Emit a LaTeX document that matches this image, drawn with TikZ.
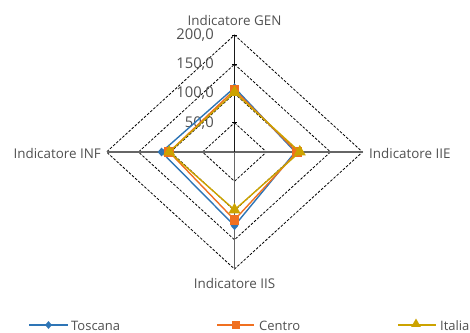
\documentclass[tikz,border=0pt]{standalone}
\usepackage{fontspec}
\setmainfont{Open Sans}
\usetikzlibrary{shapes.geometric}
\definecolor{tosc}{HTML}{2E75B6}
\definecolor{cent}{HTML}{F07020}
\definecolor{ital}{HTML}{CCA300}
\definecolor{txt}{HTML}{505050}
\newcommand\serie[6]{%
  \coordinate (#1a) at ({\cx},{\cy+#2*\ry});
  \coordinate (#1b) at ({\cx+#3*\rx},{\cy});
  \coordinate (#1c) at ({\cx},{\cy-#4*\ry});
  \coordinate (#1d) at ({\cx-#5*\rx},{\cy});
  \draw[ser#6] (#1a) -- (#1b) -- (#1c) -- (#1d) -- cycle;
  \foreach \p in {a,b,c,d}{\node[mk#6] at (#1\p) {};}
}
\begin{document}
\begin{tikzpicture}[x=1pt,y=1pt,
  lbl/.style={text=txt,font=\fontsize{13.4}{15}\selectfont,inner sep=0pt},
  ring/.style={dash pattern=on 2.6pt off 1.6pt,line width=0.8pt,black},
  gaxis/.style={draw=black!60,line width=1.1pt},
  vaxis/.style={draw=black!90,line width=1.8pt},
  serT/.style={draw=tosc,line width=1.4pt,line join=round},
  serC/.style={draw=cent,line width=1.4pt,line join=round},
  serI/.style={draw=ital,line width=1.4pt,line join=round},
  mkT/.style={diamond,fill=tosc,inner sep=0pt,minimum width=8pt,minimum height=9pt},
  mkC/.style={rectangle,fill=cent,inner sep=0pt,minimum size=9.5pt},
  mkI/.style={regular polygon,regular polygon sides=3,fill=ital,inner sep=0pt,minimum size=14pt},
  lmkT/.style={mkT,minimum width=7pt,minimum height=8pt},
  lmkC/.style={mkC,minimum size=8pt},
  lmkI/.style={mkI,minimum size=11pt}]
\useasboundingbox (0,0) rectangle (470,332);
\def\cx{234.5}\def\cy{180}\def\rx{0.64}\def\ry{0.585}
% rings
\foreach \v in {50,100,150,200}{
  \draw[ring] ({\cx},{\cy+\v*\ry}) -- ({\cx+\v*\rx},{\cy}) -- ({\cx},{\cy-\v*\ry}) -- ({\cx-\v*\rx},{\cy}) -- cycle;
}
% axes
\coordinate (C) at (\cx,\cy);
\coordinate (top) at ({\cx},{\cy+200*\ry});
\coordinate (bot) at ({\cx},{\cy-200*\ry});
\coordinate (lft) at ({\cx-200*\rx},{\cy});
\coordinate (rgt) at ({\cx+200*\rx},{\cy});
\draw[gaxis] (lft) -- (rgt);
\draw[gaxis] (C) -- (bot);
\draw[vaxis] (C) -- (top);
\foreach \v in {50,100,150,200}{
  \draw[black,line width=0.8pt] ({\cx-2.5},{\cy+\v*\ry}) -- ({\cx+2.5},{\cy+\v*\ry});
  \node[lbl,anchor=east,font=\fontsize{14.8}{16}\selectfont] (t\v) at ({\cx-20.5},{\cy+\v*\ry}) {\v,0};
}
% axis labels
\node[lbl] (lGEN) at (\cx,312) {Indicatore GEN};
\node[lbl] (lIIS) at (\cx,49) {Indicatore IIS};
\node[lbl,anchor=east] (lINF) at (101,179) {Indicatore INF};
\node[lbl,anchor=west] (lIIE) at (369,179) {Indicatore IIE};
% series
\serie{T}{110}{95}{126}{114}{T}
\serie{C}{106}{98}{116}{102}{C}
\serie{I}{102}{102}{99}{102}{I}
% legend
\coordinate (Lt1) at (29,7); \coordinate (Lt2) at (68,7);
\draw[serT] (Lt1) -- (Lt2); \node[lmkT] (Lmt) at (48.5,7) {};
\node[lbl,anchor=west,font=\fontsize{13}{14}\selectfont] (Ltx) at (71,6.5) {Toscana};
\coordinate (Lc1) at (217,7); \coordinate (Lc2) at (254,7);
\draw[serC] (Lc1) -- (Lc2); \node[lmkC] (Lmc) at (235.5,7) {};
\node[lbl,anchor=west,font=\fontsize{13}{14}\selectfont] (Lcx) at (259,6.5) {Centro};
\coordinate (Li1) at (398,7); \coordinate (Li2) at (436,7);
\draw[serI] (Li1) -- (Li2); \node[lmkI] (Lmi) at (416,8) {};
\node[lbl,anchor=west,font=\fontsize{13}{14}\selectfont] (Lix) at (440,6.5) {Italia};
\end{tikzpicture}
\end{document}
